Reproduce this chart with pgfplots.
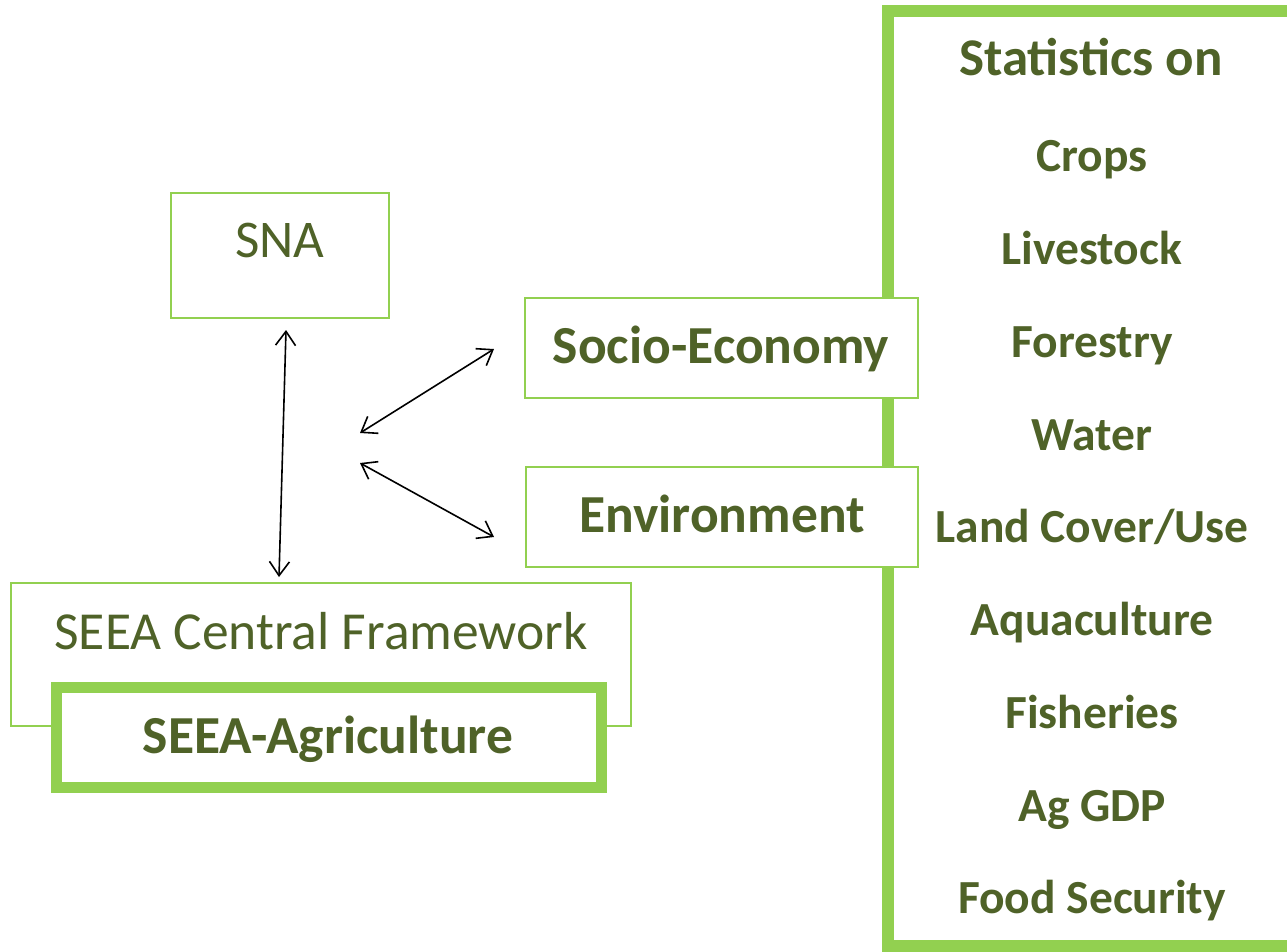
\documentclass[border=0pt]{standalone}
\usepackage{pgfplots}
\pgfplotsset{compat=1.18}
\usepackage{fontspec}
\setmainfont{Carlito}
\usetikzlibrary{arrows.meta}
\definecolor{txt}{HTML}{4F6228}
\definecolor{grn}{HTML}{92D050}
\tikzset{rt/.style={anchor=base, text=txt, font=\fontsize{47.5}{52}\selectfont\bfseries}}
\begin{document}
\begin{tikzpicture}
\begin{axis}[
  x=1pt, y=1pt,
  xmin=0, xmax=1287, ymin=0, ymax=951,
  y dir=reverse,
  hide axis,
  scale only axis,
  clip=true,
]
% invisible frame that fixes the picture's extent
\addplot[draw=none] coordinates {(0,0)(1287,951)};
% big right frame (open on the right: it runs off the picture)
\addplot[draw=grn, line width=12pt, line join=miter] coordinates {(1287,11)(888,11)(888,946)(1287,946)};
% SNA
\addplot[draw=grn, line width=2pt, fill=white] coordinates {(171,193)(389,193)(389,318)(171,318)} -- cycle;
% Socio-Economy
\addplot[draw=grn, line width=2pt, fill=white] coordinates {(525,298)(918,298)(918,398)(525,398)} -- cycle;
% Environment
\addplot[draw=grn, line width=2pt, fill=white] coordinates {(526,467)(918,467)(918,567)(526,567)} -- cycle;
% SEEA Central Framework
\addplot[draw=grn, line width=2pt, fill=white] coordinates {(11,583)(631,583)(631,726)(11,726)} -- cycle;
% SEEA-Agriculture
\addplot[draw=grn, line width=11pt, fill=white] coordinates {(56,687)(601,687)(601,787)(56,787)} -- cycle;
% arrows
\addplot[black, line width=1.6pt, {Straight Barb[length=14pt,width=20pt]}-{Straight Barb[length=14pt,width=20pt]}] coordinates {(286,330)(279,577)};
\addplot[black, line width=1.6pt, {Straight Barb[length=14pt,width=20pt]}-{Straight Barb[length=14pt,width=20pt]}] coordinates {(360,433)(494,349)};
\addplot[black, line width=1.6pt, {Straight Barb[length=14pt,width=20pt]}-{Straight Barb[length=14pt,width=20pt]}] coordinates {(360,463)(494,537)};
% texts
\node[anchor=base, text=txt, font=\fontsize{53}{60}\selectfont] at (axis cs:280,257) {SNA};
\node[anchor=base, text=txt, font=\fontsize{53.5}{60}\selectfont\bfseries] at (axis cs:721,363) {Socio-Economy};
\node[anchor=base, text=txt, font=\fontsize{53.5}{60}\selectfont\bfseries] at (axis cs:722,532) {Environment};
\node[anchor=base, text=txt, font=\fontsize{53.5}{60}\selectfont] at (axis cs:321,649) {SEEA Central Framework};
\node[anchor=base, text=txt, font=\fontsize{53.5}{60}\selectfont\bfseries] at (axis cs:328,753) {SEEA-Agriculture};
\node[rt, font=\fontsize{53}{60}\selectfont\bfseries] at (axis cs:1091,75) {Statistics on};
\node[rt] at (axis cs:1092,171) {Crops};
\node[rt] at (axis cs:1092,264) {Livestock};
\node[rt] at (axis cs:1092,357) {Forestry};
\node[rt] at (axis cs:1092,450) {Water};
\node[rt] at (axis cs:1092,542) {Land Cover/Use};
\node[rt] at (axis cs:1092,635) {Aquaculture};
\node[rt] at (axis cs:1092,728) {Fisheries};
\node[rt] at (axis cs:1092,821) {Ag GDP};
\node[rt] at (axis cs:1092,913) {Food Security};
\end{axis}
\end{tikzpicture}
\end{document}
